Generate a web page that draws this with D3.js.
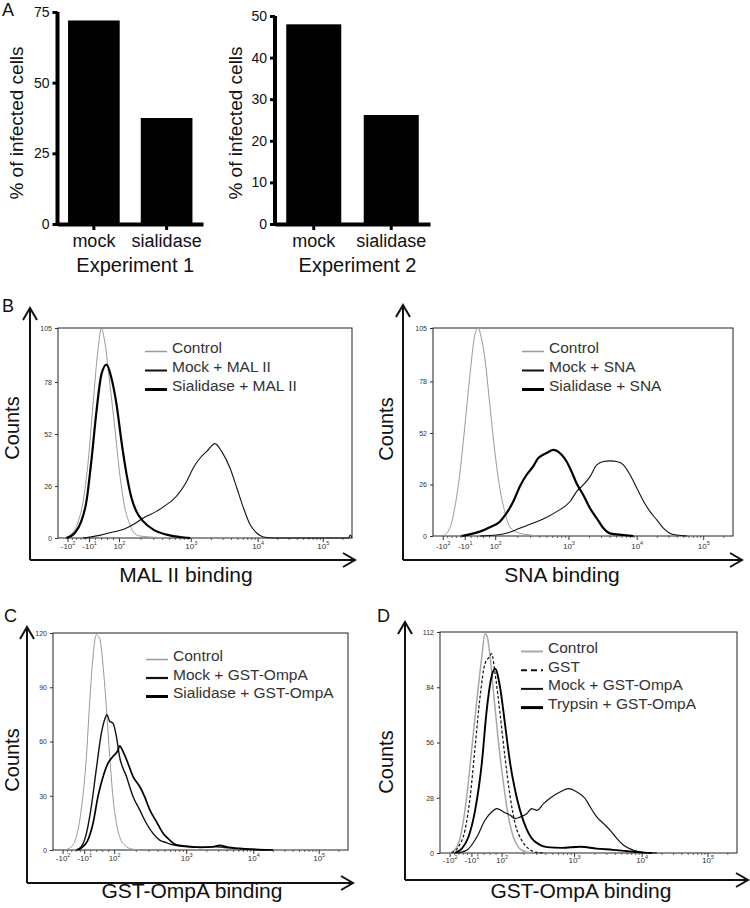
<!DOCTYPE html>
<html>
<head>
<meta charset="utf-8">
<script src="https://cdn.jsdelivr.net/npm/d3@7"></script>
<style>
  body { margin: 0; background: #fff; }
  svg { display: block; font-family: Arial, "Liberation Sans", sans-serif; }
</style>
</head>
<body>
<svg id="fig" width="750" height="908"></svg>
<script>
const FONT = 'Arial, "Liberation Sans", sans-serif';
const svg = d3.select("#fig");

////////// DATA //////////

// panel A: % infected cells
const barCats = ["mock", "sialidase"];
const exp1Values = [72, 37.5];
const exp2Values = [48, 26.2];
const exp1Ticks = [0, 25, 50, 75];
const exp2Ticks = [0, 10, 20, 30, 40, 50];

// flow histograms: x = display channel (0-1024, logicle), y = counts
const xTickChannels = [35, 110, 214, 464, 697, 924];
const xTickBase = ["-10", "-10", "10", "10", "10", "10"];
const xTickExp = ["2", "1", "2", "3", "4", "5"];

// B left: MAL II
const malYTicks = [0, 26, 52, 78, 105];
const malLegend = ["Control", "Mock + MAL II", "Sialidase + MAL II"];
const malControl = [[23,0],[47,2],[70,8],[87,18],[105,38],[122,67],[140,95],[151,105],[163,98],[180,78],[198,55],[215,32],[233,15],[250,7],[262,3],[285,1],[343,0.3],[378,0]];
const malMock = [[87,0],[145,1.3],[192,3],[227,4.2],[262,6.7],[297,10],[343,13.3],[378,16.7],[401,19.2],[448,28.3],[471,35],[495,40],[518,43.3],[547,47.2],[570,43.3],[599,35],[623,25],[646,15],[669,6.7],[692,2.5],[716,0.5],[751,0],[1012,0],[1018,1.5],[1024,0]];
const malSialidase = [[29,0],[58,2.5],[81,8.3],[99,18.3],[116,38.3],[134,63.3],[151,81.7],[169,86.7],[186,80],[204,66.7],[221,48.3],[239,31.7],[256,20],[273,13.3],[297,8.3],[332,4.2],[378,1.7],[425,0.5],[460,0]];

// B right: SNA
const snaYTicks = [0, 26, 52, 78, 105];
const snaLegend = ["Control", "Mock + SNA", "Sialidase + SNA"];
const snaControl = [[34,0],[57,3.9],[74,14],[91,30.8],[108,54.4],[125,79.7],[143,101.6],[154,105],[165,100],[177,89.8],[194,66.2],[211,42.6],[228,24.1],[245,12.3],[262,4.7],[285,1.9],[331,0.5],[353,0]];
const snaMock = [[160,0],[217,0.5],[262,1.9],[296,3.9],[331,5.9],[376,8.6],[422,12.3],[468,17.4],[490,22.4],[513,25.8],[536,30],[559,35.9],[582,37.6],[604,37.9],[627,37.6],[650,35.9],[673,30.8],[696,24.1],[719,17.4],[741,12.3],[764,8.1],[787,3.9],[810,1.3],[832,0.5],[867,0]];
const snaSialidase = [[97,0],[125,0.8],[160,2.2],[194,4.4],[228,7.2],[251,11.5],[274,17.4],[296,24.9],[319,30.8],[342,35.1],[359,39.3],[376,41],[393,42.3],[410,43.5],[422,43],[439,41],[456,37.6],[473,32.5],[490,26.6],[513,20.7],[536,14],[559,8.9],[582,3.9],[604,1.3],[650,0.5],[684,0]];

// C: GST-OmpA, sialidase
const ompYTicks = [0, 30, 60, 90, 120];
const ompLegend = ["Control", "Mock + GST-OmpA", "Sialidase + GST-OmpA"];
const ompControl = [[40,0],[64,1.8],[81,7.4],[98,22.2],[116,51.7],[127,81.2],[139,107],[150,119],[162,117],[174,101.5],[185,79.4],[197,51.7],[208,29.5],[220,14.8],[231,7.4],[255,1.8],[278,0.4],[301,0]];
const ompMock = [[81,0],[98,1.8],[116,9.2],[133,24],[150,44.3],[168,64.6],[179,72],[187,74.8],[197,71.1],[208,70.2],[220,62.8],[231,51.7],[255,40.6],[278,29.5],[301,22.2],[324,14.8],[347,9.2],[370,5.5],[393,4.1],[417,2.8],[463,1.8],[509,1.5],[567,1.8],[590,1.5],[625,0.9],[683,0.4],[741,0]];
const ompSialidase = [[87,0],[104,1.8],[121,5.5],[139,14.8],[156,29.5],[174,40.6],[191,48],[208,51.7],[226,55.4],[231,57.6],[243,54.5],[260,48],[278,40.6],[301,35.1],[318,29.5],[336,22.2],[359,15.7],[382,9.2],[405,5.5],[428,2.8],[463,2.2],[509,1.5],[555,1.8],[579,2.6],[602,1.8],[648,0.9],[694,0.4],[764,0]];

// D: GST-OmpA, trypsin
const tryYTicks = [0, 28, 56, 84, 112];
const tryLegend = ["Control", "GST", "Mock + GST-OmpA", "Trypsin + GST-OmpA"];
const tryControl = [[35,0],[58,3],[75,11.5],[92,28.4],[109,52],[127,77.4],[144,99.3],[155,111.1],[163,109.5],[173,99.3],[184,82.4],[201,57.1],[219,35.1],[236,18.2],[253,8.1],[270,3],[288,1],[311,0]];
const tryGst = [[40,0],[63,3],[86,11.5],[104,28.4],[121,53.7],[138,79],[155,95.9],[170,99.3],[178,101],[190,90.9],[207,70.6],[224,48.6],[242,28.4],[259,14.9],[282,6.4],[305,2.2],[334,0.3],[357,0]];
const tryMock = [[58,0],[92,1.4],[127,8.1],[155,16.6],[178,20.8],[196,22.5],[219,20.8],[242,19.1],[259,17.4],[276,18.2],[299,19.9],[316,22.5],[334,21.6],[357,25],[385,28.4],[414,30.9],[443,32.6],[472,30.9],[501,27.5],[518,23.3],[541,18.2],[564,14.9],[587,11.5],[610,7.3],[633,3.9],[667,1.4],[702,0.3],[748,0]];
const tryTrypsin = [[52,0],[75,2.2],[98,8.1],[121,21.6],[144,45.3],[161,72.3],[175,87.5],[190,93.4],[207,84.1],[224,65.5],[242,45.3],[259,31.8],[276,21.6],[299,12],[316,7.5],[340,4.5],[369,3],[420,2.6],[483,3.2],[540,2.2],[597,1.6],[640,1],[690,0.3],[730,0]];


////////// PANEL A: BAR CHARTS //////////

function barPanel(o) {
  const g = svg.append("g");
  const y = d3.scaleLinear().domain([0, o.yMax]).range([224, o.yTop]);
  const x = d3.scaleBand().domain(barCats).range([o.left, o.right])
      .paddingInner(0.29).paddingOuter(0.145);

  g.selectAll("rect")
    .data(o.values)
    .join("rect")
      .attr("x", (d, i) => x(barCats[i]))
      .attr("width", x.bandwidth())
      .attr("y", d => y(d))
      .attr("height", d => y(0) - y(d))
      .attr("fill", "#000");

  const ya = g.append("g")
      .attr("transform", "translate(" + o.left + ",0)")
      .call(d3.axisLeft(y).tickValues(o.ticks).tickSize(5).tickSizeOuter(0).tickPadding(3));
  ya.select(".domain").attr("stroke-width", 4).attr("d", "M0," + (y(0) + 2) + "V" + y(o.yMax));
  ya.selectAll(".tick line").attr("stroke-width", 3);
  ya.selectAll("text").attr("font-size", 14).attr("font-family", FONT).attr("fill", "#111");

  const xa = g.append("g")
      .attr("transform", "translate(0,224)")
      .call(d3.axisBottom(x).tickSize(6).tickSizeOuter(0).tickPadding(4));
  xa.select(".domain").attr("stroke-width", 4);
  xa.selectAll(".tick line").attr("stroke-width", 3);
  xa.selectAll("text").attr("font-size", 18).attr("font-family", FONT).attr("fill", "#111");

  g.append("text")
      .attr("x", (o.left + o.right) / 2 + 5)
      .attr("y", 272)
      .attr("text-anchor", "middle")
      .attr("font-size", 20)
      .attr("fill", "#111")
      .text(o.title);

  g.append("text")
      .attr("transform", "translate(" + o.yLabelX + ",123) rotate(-90)")
      .attr("text-anchor", "middle")
      .attr("font-size", 19)
      .attr("fill", "#111")
      .text("% of infected cells");
}

barPanel({ values: exp1Values, ticks: exp1Ticks, yMax: 75, yTop: 12, left: 57.5, right: 203, title: "Experiment 1", yLabelX: 23 });
barPanel({ values: exp2Values, ticks: exp2Ticks, yMax: 50, yTop: 16, left: 275, right: 430, title: "Experiment 2", yLabelX: 242 });


////////// PANELS B-D: FLOW HISTOGRAMS //////////

function facsPanel(o) {
  const g = svg.append("g");
  const x = d3.scaleLinear().domain([0, 1024]).range([o.x0, o.x1]);
  const y = d3.scaleLinear().domain([0, o.yMax]).range([o.y1, o.y0]);

  // frame
  g.append("rect")
      .attr("x", o.x0).attr("y", o.y0)
      .attr("width", o.x1 - o.x0).attr("height", o.y1 - o.y0)
      .attr("fill", "none").attr("stroke", "#222").attr("stroke-width", 1);

  // y ticks
  const ya = g.append("g")
      .attr("transform", "translate(" + o.x0 + ",0)")
      .call(d3.axisLeft(y).tickValues(o.yTicks).tickSize(3).tickSizeOuter(0).tickPadding(3));
  ya.select(".domain").remove();
  ya.selectAll("line").attr("stroke", "#333");
  ya.selectAll("text").attr("font-size", 7).attr("font-family", FONT).attr("fill", "#333");

  // minor x ticks
  let minor = [];
  for (let i = 0; i < 2; i++) {
    for (let k = 1; k < 5; k++) minor.push(xTickChannels[i] + (xTickChannels[i + 1] - xTickChannels[i]) * k / 5);
  }
  for (let i = 2; i < xTickChannels.length; i++) {
    const c0 = xTickChannels[i];
    const step = i < xTickChannels.length - 1 ? xTickChannels[i + 1] - c0 : xTickChannels[i] - xTickChannels[i - 1];
    for (let k = 2; k <= 9; k++) {
      const c = c0 + step * Math.log10(k);
      if (c < 1020) minor.push(c);
    }
  }
  g.append("g").selectAll("line")
    .data(minor)
    .join("line")
      .attr("x1", d => x(d)).attr("x2", d => x(d))
      .attr("y1", o.y1).attr("y2", o.y1 + 2)
      .attr("stroke", "#444").attr("stroke-width", 0.8);

  // major x ticks with labels
  const xt = g.append("g").selectAll("g")
    .data(xTickChannels)
    .join("g")
      .attr("transform", d => "translate(" + x(d) + "," + o.y1 + ")");
  xt.append("line").attr("y2", 4).attr("stroke", "#333");
  const lbl = xt.append("text")
      .attr("y", o.labelDy)
      .attr("text-anchor", "middle")
      .attr("font-size", 8)
      .attr("fill", "#333");
  lbl.append("tspan").text((d, i) => xTickBase[i]);
  lbl.append("tspan").attr("dy", -4).attr("font-size", 5.5).text((d, i) => xTickExp[i]);

  // histograms
  const line = d3.line()
      .x(d => x(d[0]))
      .y(d => y(d[1]))
      .curve(d3.curveMonotoneX);
  o.curves.forEach(c => {
    g.append("path")
        .datum(c.data)
        .attr("d", line)
        .attr("fill", "none")
        .attr("stroke", c.color)
        .attr("stroke-width", c.w)
        .attr("stroke-dasharray", c.dash || null)
        .attr("stroke-linejoin", "round");
  });

  // legend
  o.legend.forEach((t, i) => {
    const by = o.legY + i * o.legStep;
    const st = o.legStyle[i];
    g.append("line")
        .attr("x1", o.legX).attr("x2", o.legX + 22)
        .attr("y1", by - 1.5).attr("y2", by - 1.5)
        .attr("stroke", st.color).attr("stroke-width", st.w)
        .attr("stroke-dasharray", st.dash || null);
    g.append("text")
        .attr("x", o.legX + 27).attr("y", by)
        .attr("font-size", 15.5)
        .attr("fill", "#333")
        .text(t);
  });

  // outer arrow axes
  g.append("path")
      .attr("d", "M" + o.ax + "," + o.ay + "V" + o.vTip + "M" + o.ax + "," + o.ay + "H" + o.hTip)
      .attr("fill", "none").attr("stroke", "#111").attr("stroke-width", 2);
  g.append("path")
      .attr("d", "M" + (o.ax - 7) + "," + (o.vTip + 12) + "L" + o.ax + "," + o.vTip + "L" + (o.ax + 7) + "," + (o.vTip + 12) +
                 "M" + (o.hTip - 12) + "," + (o.ay - 7) + "L" + o.hTip + "," + o.ay + "L" + (o.hTip - 12) + "," + (o.ay + 7))
      .attr("fill", "none").attr("stroke", "#111").attr("stroke-width", 2);

  // titles
  g.append("text")
      .attr("transform", "translate(" + o.countsX + "," + o.countsY + ") rotate(-90)")
      .attr("text-anchor", "middle")
      .attr("font-size", 20)
      .attr("fill", "#111")
      .text("Counts");
  g.append("text")
      .attr("x", o.titleX).attr("y", o.titleY)
      .attr("text-anchor", "middle")
      .attr("font-size", 21)
      .attr("fill", "#111")
      .text(o.title);
}

const grey = "#9a9a9a";

facsPanel({
  x0: 58, x1: 352, y0: 328, y1: 538, yMax: 105, yTicks: malYTicks, labelDy: 10.5,
  curves: [
    { data: malControl, color: grey, w: 1 },
    { data: malMock, color: "#111", w: 1.1 },
    { data: malSialidase, color: "#000", w: 2.2 }
  ],
  legend: malLegend, legX: 145, legY: 353, legStep: 19,
  legStyle: [{ color: grey, w: 1.5 }, { color: "#111", w: 2 }, { color: "#000", w: 3 }],
  ax: 30, ay: 560, vTip: 308, hTip: 355,
  countsX: 19, countsY: 428, title: "MAL II binding", titleX: 186, titleY: 582
});

facsPanel({
  x0: 433, x1: 733, y0: 328, y1: 536, yMax: 105, yTicks: snaYTicks, labelDy: 13,
  curves: [
    { data: snaControl, color: grey, w: 1 },
    { data: snaMock, color: "#111", w: 1.1 },
    { data: snaSialidase, color: "#000", w: 2.2 }
  ],
  legend: snaLegend, legX: 522, legY: 353, legStep: 19,
  legStyle: [{ color: grey, w: 1.5 }, { color: "#111", w: 2 }, { color: "#000", w: 3 }],
  ax: 403, ay: 560, vTip: 305, hTip: 742,
  countsX: 393, countsY: 429, title: "SNA binding", titleX: 562, titleY: 582
});

facsPanel({
  x0: 53, x1: 348, y0: 633, y1: 850, yMax: 120, yTicks: ompYTicks, labelDy: 11,
  curves: [
    { data: ompControl, color: grey, w: 1 },
    { data: ompMock, color: "#111", w: 1.4 },
    { data: ompSialidase, color: "#000", w: 1.7 }
  ],
  legend: ompLegend, legX: 146, legY: 661, legStep: 18.5,
  legStyle: [{ color: grey, w: 1.5 }, { color: "#111", w: 2.2 }, { color: "#000", w: 3 }],
  ax: 27, ay: 883, vTip: 627, hTip: 353,
  countsX: 19, countsY: 760, title: "GST-OmpA binding", titleX: 192, titleY: 898
});

facsPanel({
  x0: 440, x1: 737, y0: 632, y1: 853, yMax: 112, yTicks: tryYTicks, labelDy: 10,
  curves: [
    { data: tryControl, color: "#a8a8a8", w: 1.5 },
    { data: tryGst, color: "#111", w: 1.2, dash: "3,2" },
    { data: tryMock, color: "#111", w: 1.2 },
    { data: tryTrypsin, color: "#000", w: 1.9 }
  ],
  legend: tryLegend, legX: 521, legY: 653, legStep: 18.7,
  legStyle: [{ color: "#a8a8a8", w: 2 }, { color: "#111", w: 2, dash: "6,4" }, { color: "#111", w: 2 }, { color: "#000", w: 3 }],
  ax: 405, ay: 880, vTip: 622, hTip: 748,
  countsX: 393, countsY: 762, title: "GST-OmpA binding", titleX: 581, titleY: 898
});

// panel letters
[["A", 2, 16], ["B", 2, 312], ["C", 4, 622], ["D", 377, 622]].forEach(p => {
  svg.append("text")
      .attr("x", p[1]).attr("y", p[2])
      .attr("font-size", 18)
      .attr("fill", "#111")
      .text(p[0]);
});
</script>
</body>
</html>
